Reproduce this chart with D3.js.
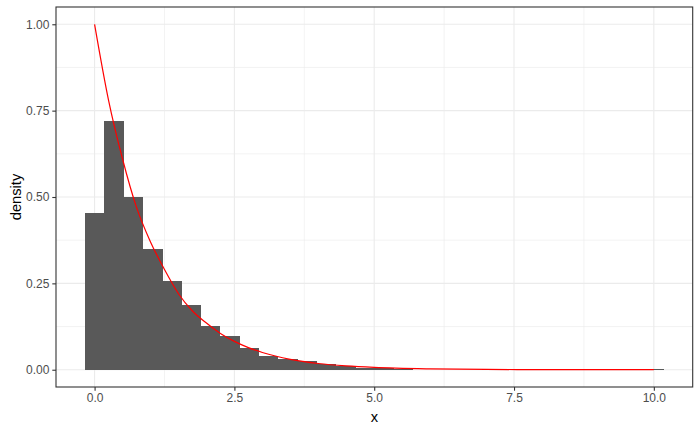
<!DOCTYPE html>
<html>
<head>
<meta charset="utf-8">
<script src="https://cdn.jsdelivr.net/npm/d3@7"></script>
<style>
  body { margin: 0; background: #fff; }
  svg { font-family: "Liberation Sans", Arial, sans-serif; }
</style>
</head>
<body>
<svg id="chart"></svg>
<script>
// histogram bins: 30 bins of width 0.345, first one centred on 0
var binStart = -0.1725;
var binWidth = 0.345;
var binDensity = [0.453, 0.720, 0.500, 0.349, 0.256, 0.187, 0.126, 0.097, 0.062, 0.039,
                  0.030, 0.024, 0.018, 0.010, 0.006, 0.004, 0.003, 0, 0, 0,
                  0, 0, 0, 0, 0, 0, 0, 0, 0, 0.001];

// red density curve
var curveX = [0, 0.25, 0.5, 0.75, 1, 1.25, 1.5, 1.75, 2, 2.25, 2.5, 2.75, 3, 3.5, 4, 4.5, 5, 6, 7, 8, 9, 10];
var curveY = [1.00, 0.78, 0.61, 0.47, 0.37, 0.29, 0.22, 0.17, 0.135, 0.105, 0.082, 0.064, 0.050, 0.030, 0.018, 0.011, 0.0067, 0.0025, 0.0009, 0.0003, 0.0001, 0.00005];

var xTicks = [0, 2.5, 5, 7.5, 10];
var yTicks = [0, 0.25, 0.5, 0.75, 1];

var W = 700, H = 432;
var margin = {top: 7, right: 7.3, bottom: 45, left: 56};
var width = W - margin.left - margin.right;
var height = H - margin.top - margin.bottom;

var bins = binDensity.map(function(d, i) {
  return {x0: binStart + i * binWidth, x1: binStart + (i + 1) * binWidth, y: d};
});

var xMin = bins[0].x0, xMax = bins[bins.length - 1].x1;
var xPad = (xMax - xMin) * 0.05;
var yMaxData = d3.max([d3.max(binDensity), d3.max(curveY)]);
var yPad = yMaxData * 0.05;

var x = d3.scaleLinear().domain([xMin - xPad, xMax + xPad]).range([0, width]);
var y = d3.scaleLinear().domain([-yPad, yMaxData + yPad]).range([height, 0]);

var svg = d3.select("#chart").attr("width", W).attr("height", H);
var chart = svg.append("g")
  .attr("transform", "translate(" + margin.left + "," + margin.top + ")");

// minor grid
var xMinor = [1.25, 3.75, 6.25, 8.75];
var yMinor = [0.125, 0.375, 0.625, 0.875];
chart.selectAll(".xminor").data(xMinor).enter().append("line")
  .attr("x1", function(d) { return x(d); }).attr("x2", function(d) { return x(d); })
  .attr("y1", 0).attr("y2", height)
  .attr("stroke", "#EBEBEB").attr("stroke-width", 0.6);
chart.selectAll(".yminor").data(yMinor).enter().append("line")
  .attr("y1", function(d) { return y(d); }).attr("y2", function(d) { return y(d); })
  .attr("x1", 0).attr("x2", width)
  .attr("stroke", "#EBEBEB").attr("stroke-width", 0.6);

// major grid
chart.selectAll(".xmajor").data(xTicks).enter().append("line")
  .attr("x1", function(d) { return x(d); }).attr("x2", function(d) { return x(d); })
  .attr("y1", 0).attr("y2", height)
  .attr("stroke", "#EBEBEB").attr("stroke-width", 1.1);
chart.selectAll(".ymajor").data(yTicks).enter().append("line")
  .attr("y1", function(d) { return y(d); }).attr("y2", function(d) { return y(d); })
  .attr("x1", 0).attr("x2", width)
  .attr("stroke", "#EBEBEB").attr("stroke-width", 1.1);

// bars
chart.selectAll(".bar").data(bins.filter(function(d) { return d.y > 0; })).enter().append("rect")
  .attr("x", function(d) { return x(d.x0); })
  .attr("width", function(d) { return x(d.x1) - x(d.x0) + 0.5; })
  .attr("y", function(d) { return y(d.y); })
  .attr("height", function(d) { return y(0) - y(d.y); })
  .attr("fill", "#595959")
  .attr("shape-rendering", "crispEdges");

// density curve
var line = d3.line()
  .x(function(d) { return x(d[0]); })
  .y(function(d) { return y(d[1]); })
  .curve(d3.curveMonotoneX);

chart.append("path")
  .datum(d3.zip(curveX, curveY))
  .attr("d", line)
  .attr("fill", "none")
  .attr("stroke", "red")
  .attr("stroke-width", 1.2);

// panel border
chart.append("rect")
  .attr("x", 0).attr("y", 0).attr("width", width).attr("height", height)
  .attr("fill", "none").attr("stroke", "#333333").attr("stroke-width", 1.1);

// axes
var fmtX = d3.format(".1f"), fmtY = d3.format(".2f");
var xAxis = chart.append("g")
  .attr("transform", "translate(0," + height + ")")
  .call(d3.axisBottom(x).tickValues(xTicks).tickFormat(fmtX).tickSize(3.7).tickPadding(3));
var yAxis = chart.append("g")
  .call(d3.axisLeft(y).tickValues(yTicks).tickFormat(fmtY).tickSize(3.7).tickPadding(3));

[xAxis, yAxis].forEach(function(a) {
  a.select(".domain").remove();
  a.selectAll(".tick line").attr("stroke", "#333333").attr("stroke-width", 1.1);
  a.selectAll(".tick text")
    .attr("fill", "#4D4D4D")
    .style("font-size", "12px")
    .style("font-family", "'Liberation Sans', Arial, sans-serif");
});

// axis titles
svg.append("text")
  .attr("x", margin.left + width / 2)
  .attr("y", 422)
  .attr("text-anchor", "middle")
  .style("font-size", "14.7px")
  .attr("fill", "black")
  .text("x");

svg.append("text")
  .attr("transform", "translate(21," + (margin.top + height / 2) + ") rotate(-90)")
  .attr("text-anchor", "middle")
  .style("font-size", "14.7px")
  .attr("fill", "black")
  .text("density");
</script>
</body>
</html>
